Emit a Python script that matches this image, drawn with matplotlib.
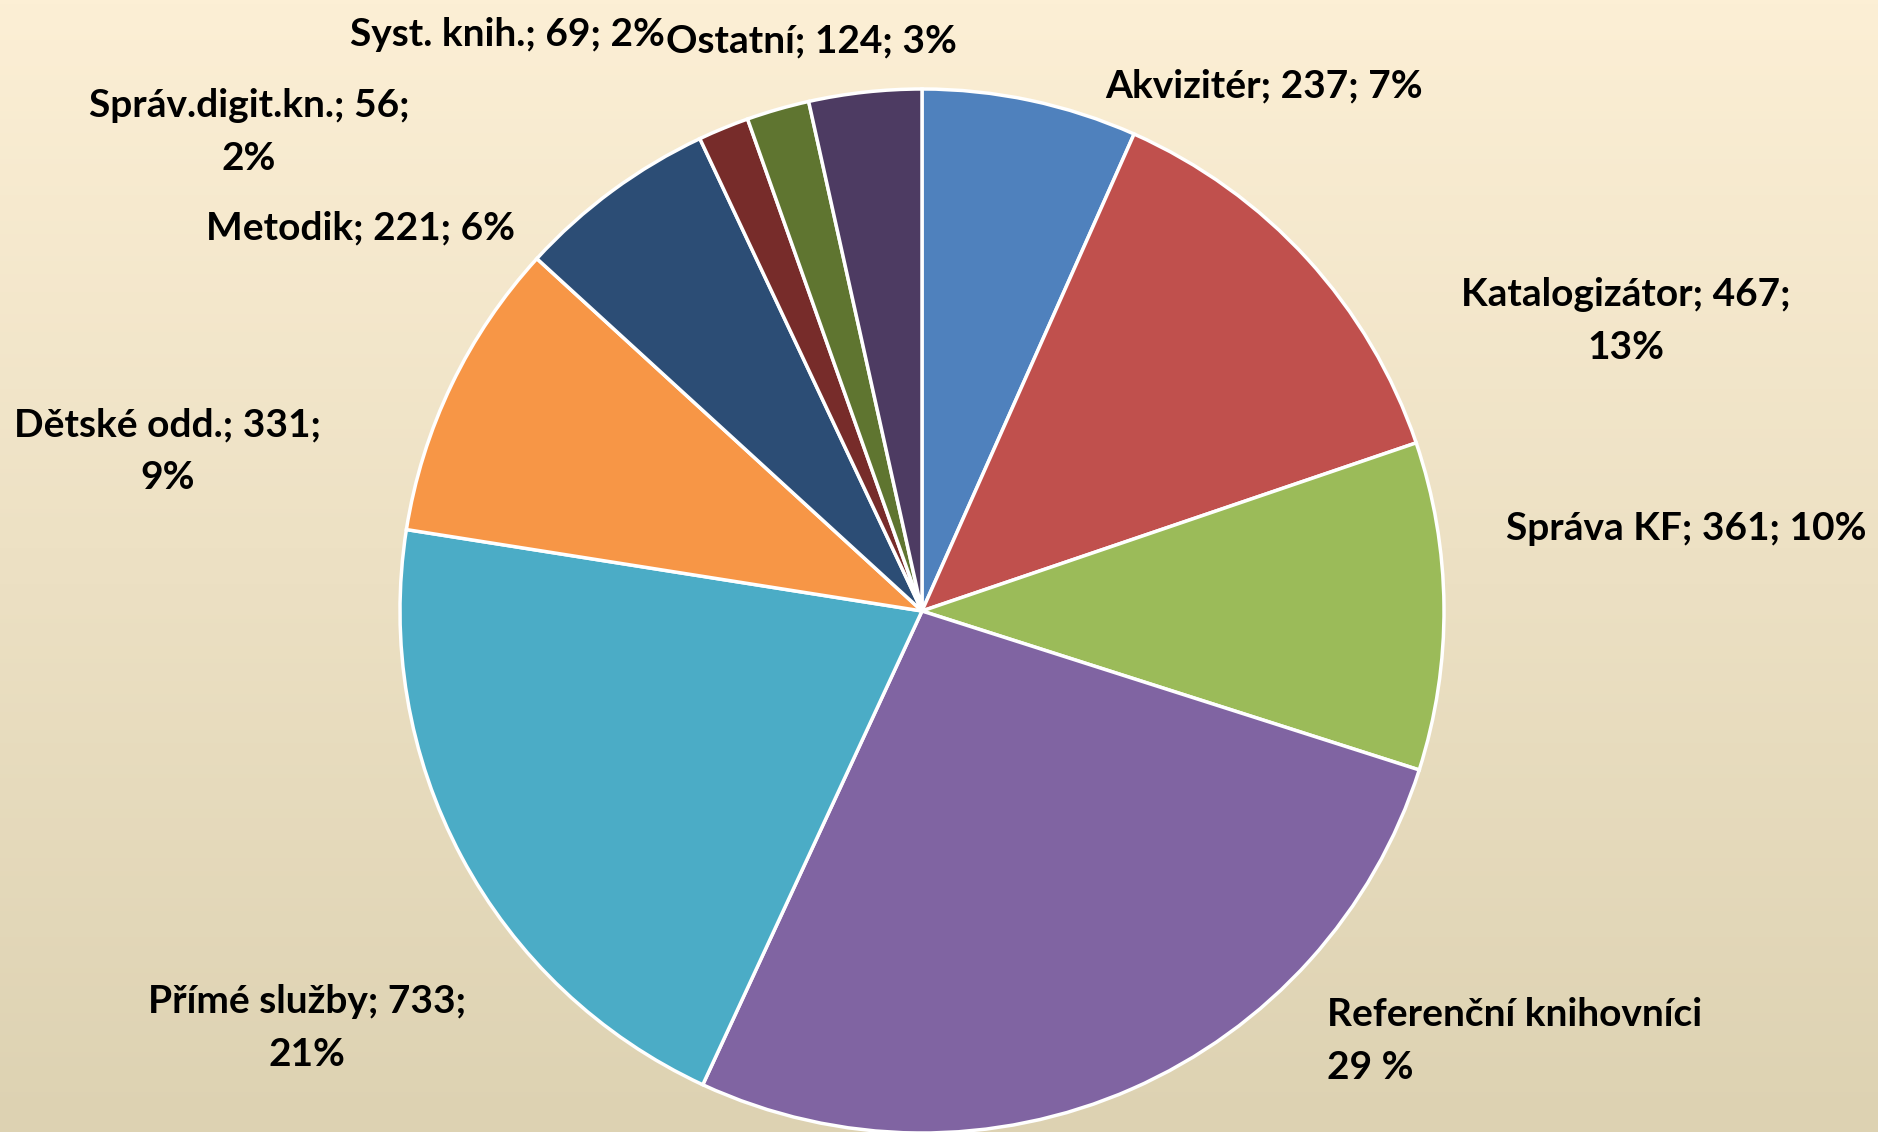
import numpy as np
import matplotlib
matplotlib.use("Agg")
import matplotlib.pyplot as plt

categories = ["Akvizitér", "Katalogizátor", "Správa KF", "Referenční knihovníci",
              "Přímé služby", "Dětské odd.", "Metodik", "Správ.digit.kn.",
              "Syst. knih.", "Ostatní"]
values = [237, 467, 361, 960, 733, 331, 221, 56, 69, 124]
labels = ["Akvizitér; 237; 7%", "Katalogizátor; 467;\n13%", "Správa KF; 361; 10%",
          "Referenční knihovníci\n29 %", "Přímé služby; 733;\n21%",
          "Dětské odd.; 331;\n9%", "Metodik; 221; 6%", "Správ.digit.kn.; 56;\n2%",
          "Syst. knih.; 69; 2%", "Ostatní; 124; 3%"]
colors = ["#4F81BD", "#C0504D", "#9BBB59", "#8064A2", "#4BACC6",
          "#F79646", "#2C4D75", "#772C2A", "#5F7530", "#4D3B62"]

W, H = 1878, 1132
fig = plt.figure(figsize=(W / 100, H / 100), dpi=100)

# background gradient
bg = fig.add_axes([0, 0, 1, 1], zorder=0)
top = np.array([252, 239, 213]) / 255
bot = np.array([221, 210, 178]) / 255
t = np.linspace(0, 1, 256)[:, None]
grad = top * (1 - t) + bot * t
bg.imshow(grad[:, None, :].repeat(2, axis=1), aspect="auto", extent=[0, 1, 0, 1])
bg.axis("off")

ax = fig.add_axes([0, 0, 1, 1], zorder=1)
ax.set_xlim(0, W)
ax.set_ylim(0, H)
ax.axis("off")

cx, cy, r = 922, H - 611, 522
ax.pie(values, colors=colors, startangle=90, counterclock=False,
       center=(cx, cy), radius=r,
       wedgeprops=dict(edgecolor="white", linewidth=2.5))
ax.set_xlim(0, W)
ax.set_ylim(0, H)
ax.set_aspect("equal")

# label positions (pixels from top-left)
pos = [(1264, 86, "center"), (1626, 321, "center"), (1686, 529, "center"),
       (1327, 1041, "left"), (307, 1028, "center"), (168, 451, "center"),
       (360, 228, "center"), (249, 132, "center"), (507, 34, "center"),
       (811, 41, "center")]
for lab, (x, y, ha) in zip(labels, pos):
    ax.text(x, H - y, lab, ha=ha, va="center", fontsize=28, fontweight="bold",
            family="Lato", color="black", linespacing=1.6, multialignment=ha)

fig.savefig("out.png", dpi=100)
